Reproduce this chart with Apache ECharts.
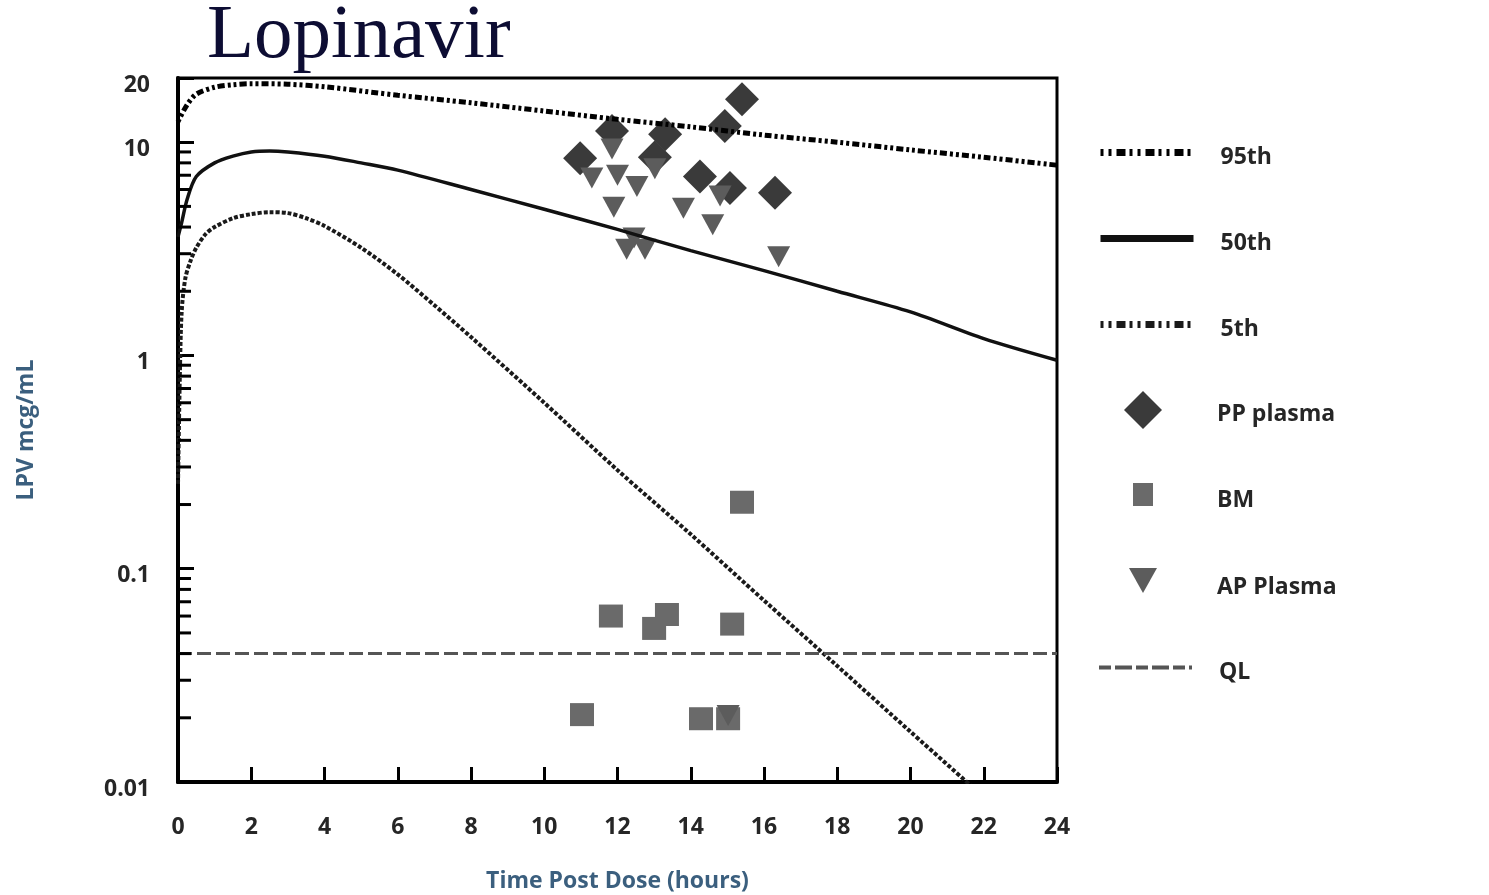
<!DOCTYPE html>
<html>
<head>
<meta charset="UTF-8">
<title>Lopinavir</title>
<script src="https://cdn.jsdelivr.net/npm/echarts@6/dist/echarts.min.js"></script>
<style>
  html, body { margin: 0; background: #fff; }
  #chart { width: 1489px; height: 895px; }
</style>
</head>
<body>
<div id="chart"></div>
<script>
// percentile curves: [time post dose (h), LPV (mcg/mL)]
var p95 = [[0,12.5],[0.25,15],[0.5,16.8],[1,18.1],[1.5,18.6],[2,18.8],[3,18.7],[4,18.2],[6,16.6],[8,15.3],[10,14.0],[12,12.8],[14,11.8],[16,10.8],[18,10.0],[20,9.2],[22,8.5],[24,7.8]];
var p50 = [[0,3.6],[0.1,4.2],[0.25,5.4],[0.5,6.9],[1,8.0],[1.5,8.6],[2,9.0],[2.5,9.1],[3,9.0],[4,8.6],[5,8.0],[6,7.4],[8,6.0],[10,4.85],[12,3.9],[14,3.1],[16,2.5],[18,2.0],[20,1.6],[22,1.2],[24,0.95]];
var p5 = [[0,0.25],[0.05,0.8],[0.1,1.6],[0.2,2.3],[0.35,2.8],[0.5,3.2],[0.75,3.7],[1,4.0],[1.5,4.4],[2,4.6],[2.5,4.7],[3,4.65],[3.5,4.4],[4,4.05],[5,3.2],[6,2.4],[7,1.72],[8,1.22],[10,0.6],[12,0.29],[14,0.145],[16,0.071],[18,0.035],[20,0.0172],[22,0.0085]];

// observed samples
var ppPlasma = [[10.98,8.4],[11.85,11.3],[13.3,10.9],[13.02,8.5],[15.4,15.9],[14.93,11.9],[14.25,6.9],[15.07,6.1],[16.3,5.8]];
var bm = [[15.4,0.205],[11.82,0.06],[13.35,0.061],[13.0,0.0525],[15.13,0.055],[11.03,0.0207],[14.28,0.0198],[15.02,0.0198]];
var apPlasma = [[11.3,6.8],[11.85,9.3],[12.0,7.0],[12.53,6.2],[13.02,7.5],[11.9,4.95],[13.8,4.9],[14.6,4.1],[14.8,5.6],[12.45,3.55],[12.25,3.15],[12.75,3.15],[16.4,2.9],[15.02,0.0205]];

var qlValue = 0.04;
var qlLine = [[0, qlValue], [24, qlValue]];

// minor ticks on the log axis
var minorTicks = [0.02,0.03,0.04,0.05,0.06,0.07,0.08,0.09,0.2,0.3,0.4,0.5,0.6,0.7,0.8,0.9,2,3,4,5,6,7,8,9];

var labelFont = { fontFamily: 'Open Sans', fontWeight: 'bold', fontSize: 23, color: '#262626' };
var nameColor = '#3b5f7e';
var dotted = [3, 3, 3, 3, 7, 3];

var chart = echarts.init(document.getElementById('chart'));

// one legend block per row so every icon can have its own size
function legendItem(name, left, top, w, h, padTop, extra) {
  var d = { name: name };
  if (extra) Object.assign(d, extra);
  return {
    data: [d],
    left: left,
    top: top,
    orient: 'vertical',
    padding: 0,
    itemWidth: w,
    itemHeight: h,
    selectedMode: false,
    formatter: '{t|{name}}',
    textStyle: {
      rich: {
        t: {
          fontFamily: 'Open Sans', fontWeight: 'bold', fontSize: 23, color: '#262626',
          padding: [padTop, 0, 0, 1217 - (left + w + 5)]
        }
      }
    }
  };
}

var hideDot = { opacity: 0 };

var option = {
  backgroundColor: '#fff',
  animation: false,
  title: {
    text: 'Lopinavir',
    left: 202,
    top: -7,
    textStyle: { fontFamily: 'Liberation Serif', fontWeight: 'normal', fontSize: 77, color: '#0d0d33' }
  },
  legend: [
    legendItem('95th', 1097, 146, 93, 8, 10, { itemStyle: hideDot, lineStyle: { width: 7, type: [3, 5, 3, 5, 9, 4] } }),
    legendItem('50th', 1097, 232, 93, 8, 10, { itemStyle: hideDot, lineStyle: { width: 7 } }),
    legendItem('5th', 1097, 318, 93, 8, 10, { itemStyle: hideDot, lineStyle: { width: 7, type: [3, 5, 3, 5, 9, 4] } }),
    legendItem('PP plasma', 1124, 391, 38, 38, 8),
    legendItem('BM', 1133, 483, 20, 23, 12),
    legendItem('AP Plasma', 1129, 568, 28, 25, 14, { icon: 'path://M0,0 L28,0 L14,25 Z' }),
    legendItem('QL', 1097, 661, 93, 8, 10, { itemStyle: hideDot, lineStyle: { width: 4, type: [12, 4, 17, 4] } })
  ],
  grid: {
    left: 178, right: 432, top: 78, bottom: 113,
    outerBoundsMode: 'none',
    containLabel: false,
    show: true, borderColor: '#000', borderWidth: 3
  },
  xAxis: {
    type: 'value', min: 0, max: 24, interval: 2,
    name: 'Time Post Dose (hours)', nameLocation: 'middle', nameGap: 88,
    nameTextStyle: { fontFamily: 'Open Sans', fontWeight: 'bold', fontSize: 23, color: nameColor },
    axisLine: { lineStyle: { color: '#000', width: 4 } },
    axisTick: { inside: true, length: 15, lineStyle: { color: '#000', width: 3 } },
    axisLabel: Object.assign({ margin: 34 }, labelFont),
    splitLine: { show: false }
  },
  yAxis: {
    type: 'log', logBase: 10, min: 0.01, max: 20,
    name: 'LPV mcg/mL', nameLocation: 'middle', nameGap: 140,
    nameTextStyle: { fontFamily: 'Open Sans', fontWeight: 'bold', fontSize: 23, color: nameColor },
    axisLine: { lineStyle: { color: '#000', width: 4 } },
    axisTick: { inside: true, length: 16, lineStyle: { color: '#000', width: 3 } },
    axisLabel: {
      margin: 28,
      formatter: function (v) { return '{t|' + v + '}'; },
      rich: { t: Object.assign({ padding: [14, 0, 0, 0] }, labelFont) }
    },
    splitLine: { show: false }
  },
  series: [
    {
      type: 'custom', name: 'minor', silent: true,
      data: minorTicks.map(function (v) { return [0, v]; }),
      renderItem: function (params, api) {
        var p = api.coord([0, api.value(1)]);
        return { type: 'line', shape: { x1: p[0], y1: p[1], x2: p[0] + 13, y2: p[1] }, style: { stroke: '#000', lineWidth: 3 } };
      },
      z: 5
    },
    { name: 'PP plasma', type: 'scatter', data: ppPlasma, symbol: 'diamond', symbolSize: 34, itemStyle: { color: '#3a3a3a', opacity: 1 } },
    { name: 'BM', type: 'scatter', data: bm, symbol: 'rect', symbolSize: [24, 23], itemStyle: { color: '#6a6a6a', opacity: 1 } },
    { name: 'AP Plasma', type: 'scatter', data: apPlasma, symbol: 'triangle', symbolRotate: 180, symbolSize: [23, 21], itemStyle: { color: '#5c5c5c', opacity: 1 } },
    { name: '95th', type: 'line', data: p95, symbol: 'none', smooth: 0.3, itemStyle: { color: '#000' }, lineStyle: { color: '#000', width: 5, type: dotted } },
    { name: '50th', type: 'line', data: p50, symbol: 'none', smooth: 0.3, itemStyle: { color: '#111' }, lineStyle: { color: '#111', width: 3.5 } },
    { name: '5th', type: 'line', data: p5, symbol: 'none', smooth: 0.3, itemStyle: { color: '#1a1a1a' }, lineStyle: { color: '#1a1a1a', width: 4, type: [4, 2] } },
    { name: 'QL', type: 'line', data: qlLine, symbol: 'none', itemStyle: { color: '#555' }, lineStyle: { color: '#555', width: 3, type: [14, 5] } }
  ]
};

chart.setOption(option);
</script>
</body>
</html>
